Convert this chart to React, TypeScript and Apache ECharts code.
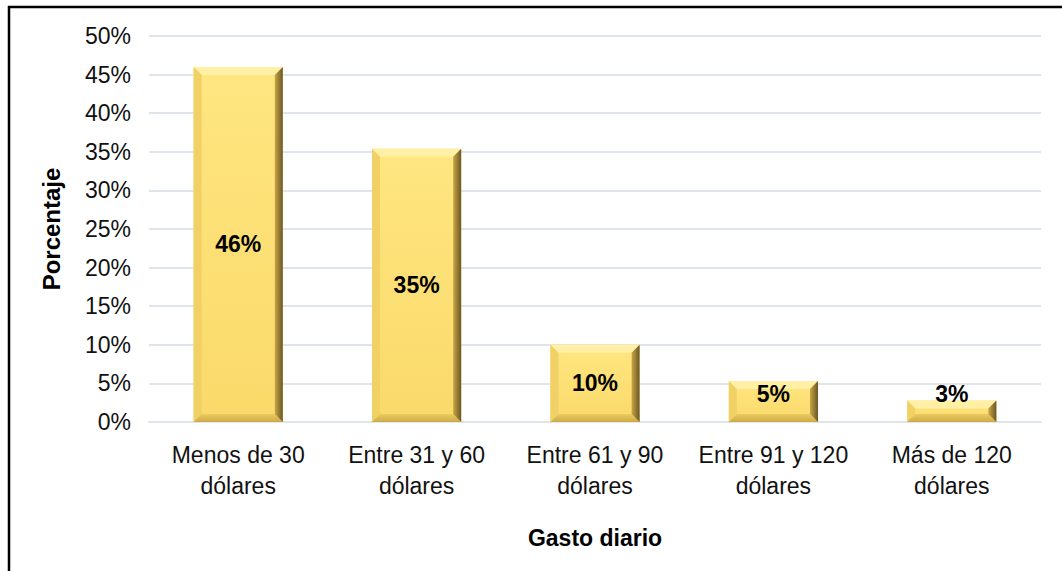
import React, { useEffect, useRef } from "react";
import * as echarts from "echarts";

const categories = [
  "Menos de 30\ndólares",
  "Entre 31 y 60\ndólares",
  "Entre 61 y 90\ndólares",
  "Entre 91 y 120\ndólares",
  "Más de 120\ndólares",
];
const values = [46, 35.4, 10, 5.3, 2.8];
const yTicks = { min: 0, max: 50, interval: 5 };
const yTitle = "Porcentaje";
const xTitle = "Gasto diario";

const FONT = "'Liberation Sans', Arial, sans-serif";

export default function App() {
  const ref = useRef<HTMLDivElement>(null);
  useEffect(() => {
    if (!ref.current) return;
    const chart = echarts.init(ref.current, null, { renderer: "svg" });
    const renderItem = (params: any, api: any) => {
      const idx = api.value(0);
      const v = api.value(1);
      const top = api.coord([idx, v]);
      const base = api.coord([idx, 0]);
      const bw = api.size([1, 0])[0] * 0.5;
      const x0 = top[0] - bw / 2;
      const x1 = top[0] + bw / 2;
      const y0 = top[1];
      const y1 = base[1];
      const h = y1 - y0;
      const b = Math.min(8, h / 2.5);
      const labelY = Math.min((y0 + y1) / 2, y1 - 28);
      return {
        type: "group",
        children: [
          {
            type: "rect",
            shape: { x: x0, y: y0, width: bw, height: h },
            style: {
              fill: new echarts.graphic.LinearGradient(0, 0, 0, 1, [
                { offset: 0, color: "#FFE680" },
                { offset: 1, color: "#FAD96A" },
              ]),
            },
          },
          {
            type: "polygon",
            shape: { points: [[x0, y0], [x1, y0], [x1 - b, y0 + b], [x0 + b, y0 + b]] },
            style: { fill: "#FFF0A6" },
          },
          {
            type: "polygon",
            shape: { points: [[x0, y0], [x0 + b, y0 + b], [x0 + b, y1 - b], [x0, y1]] },
            style: { fill: "#F1D066" },
          },
          {
            type: "polygon",
            shape: { points: [[x0, y1], [x1, y1], [x1 - b, y1 - b], [x0 + b, y1 - b]] },
            style: {
              fill: new echarts.graphic.LinearGradient(0, 0, 0, 1, [
                { offset: 0, color: "#EBCB60" },
                { offset: 1, color: "#CDAA48" },
              ]),
            },
          },
          {
            type: "polygon",
            shape: { points: [[x1, y0], [x1, y1], [x1 - b, y1 - b], [x1 - b, y0 + b]] },
            style: {
              fill: new echarts.graphic.LinearGradient(0, 0, 1, 0, [
                { offset: 0, color: "#C8A545" },
                { offset: 1, color: "#6B5724" },
              ]),
            },
          },
          {
            type: "text",
            x: top[0],
            y: labelY,
            style: {
              text: Math.round(v) + "%",
              fill: "#000",
              font: `bold 23px ${FONT}`,
              align: "center",
              verticalAlign: "middle",
            },
          },
        ],
      };
    };
    chart.setOption({
      animation: false,
      backgroundColor: "#fff",
      textStyle: { fontFamily: FONT },
      grid: { left: 149, right: 21, top: 36, bottom: 149, containLabel: false },
      xAxis: {
        type: "category",
        data: categories,
        axisLine: { show: true, lineStyle: { color: "#E0E4EB", width: 2 } },
        axisTick: { show: false },
        axisLabel: {
          interval: 0,
          fontSize: 23,
          lineHeight: 31,
          color: "#111",
          margin: 17,
          fontFamily: FONT,
        },
        name: xTitle,
        nameLocation: "middle",
        nameGap: 104,
        nameTextStyle: { fontSize: 23, fontWeight: "bold", color: "#000", fontFamily: FONT },
      },
      yAxis: {
        type: "value",
        min: yTicks.min,
        max: yTicks.max,
        interval: yTicks.interval,
        axisLine: { show: false },
        axisTick: { show: false },
        splitLine: { lineStyle: { color: "#E0E4EB", width: 2 } },
        axisLabel: {
          formatter: "{value}%",
          fontSize: 23,
          color: "#111",
          margin: 18,
          fontFamily: FONT,
        },
        name: yTitle,
        nameLocation: "middle",
        nameGap: 86,
        nameRotate: 90,
        nameTextStyle: { fontSize: 24, fontWeight: "bold", color: "#000", fontFamily: FONT },
      },
      series: [
        {
          type: "custom",
          renderItem,
          encode: { x: 0, y: 1 },
          data: values.map((v, i) => [i, v]),
        },
      ],
      graphic: [
        {
          type: "rect",
          shape: { x: 9, y: 7, width: 1200, height: 700 },
          style: { fill: "none", stroke: "#000", lineWidth: 2.5 },
          silent: true,
        },
      ],
    });
    return () => chart.dispose();
  }, []);
  return (
    <div
      ref={ref}
      style={{ position: "fixed", left: 0, top: 0, width: 1062, height: 571 }}
    />
  );
}
